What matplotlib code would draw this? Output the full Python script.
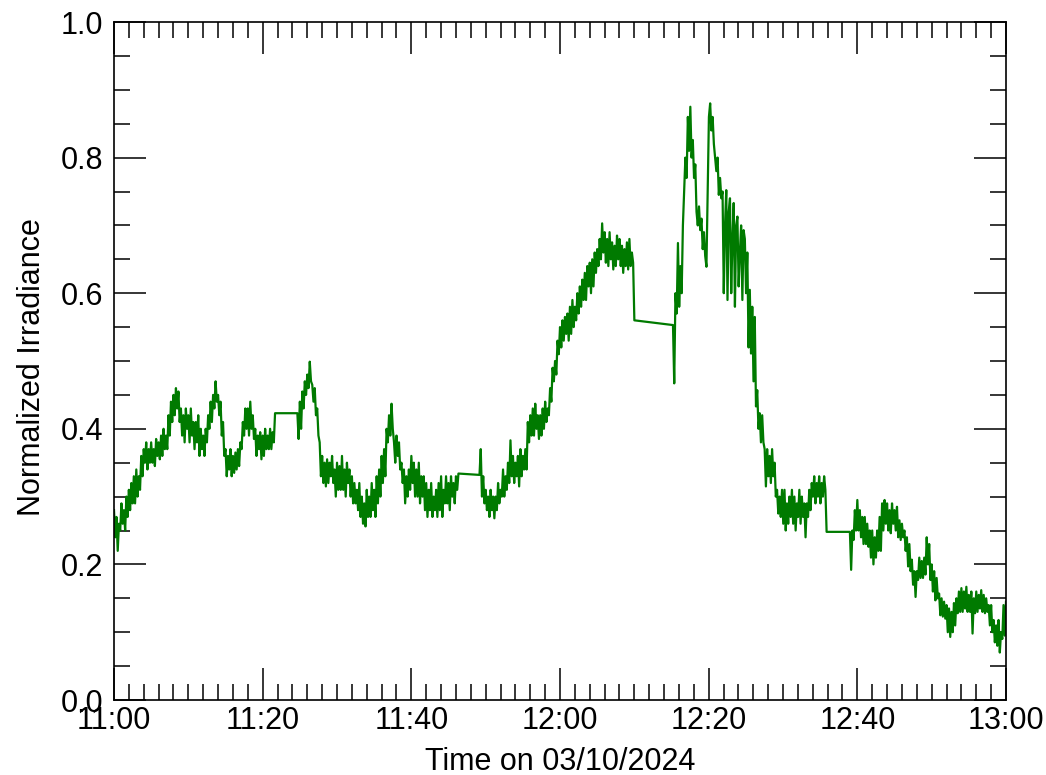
import numpy as np
import matplotlib
matplotlib.use("Agg")
import matplotlib.pyplot as plt
from matplotlib import font_manager as fm
from matplotlib.ticker import MultipleLocator

# Irradiance record at a 10-second cadence, split where the logger had gaps.
SAMPLE_STEP_MIN = 1.0 / 6.0

seg_a_start = 0.0
seg_a = [0.28, 0.24, 0.27, 0.22, 0.26, 0.25,
         0.29, 0.26, 0.28, 0.25, 0.30, 0.27,
         0.31, 0.28, 0.32, 0.29, 0.33, 0.29,
         0.34, 0.30, 0.33, 0.31, 0.36, 0.33,
         0.37, 0.35, 0.38, 0.34, 0.37, 0.35,
         0.38, 0.35, 0.37, 0.345, 0.385, 0.36,
         0.38, 0.355, 0.39, 0.36, 0.40, 0.37,
         0.39, 0.37, 0.42, 0.39, 0.44, 0.41,
         0.45, 0.42, 0.46, 0.43, 0.455, 0.41,
         0.43, 0.39, 0.42, 0.38, 0.43, 0.40,
         0.42, 0.38, 0.43, 0.39, 0.41, 0.37,
         0.41, 0.38, 0.42, 0.36, 0.40, 0.37,
         0.39, 0.36, 0.40, 0.38, 0.42, 0.40,
         0.44, 0.41, 0.45, 0.43, 0.47, 0.44,
         0.45, 0.42, 0.44, 0.39, 0.41, 0.36,
         0.37, 0.33, 0.36, 0.34, 0.37, 0.33,
         0.36, 0.335, 0.365, 0.34, 0.37, 0.345,
         0.38, 0.37, 0.41, 0.39, 0.43, 0.40,
         0.43, 0.39, 0.44, 0.40, 0.42, 0.385,
         0.40, 0.36, 0.39, 0.37, 0.395, 0.355,
         0.39, 0.36, 0.40, 0.37, 0.39, 0.37,
         0.40, 0.37, 0.395, 0.38, 0.423]

seg_b_start = 24.67
seg_b = [0.423, 0.385, 0.44, 0.40, 0.455, 0.43,
         0.47, 0.45, 0.48, 0.46, 0.499, 0.47,
         0.465, 0.44, 0.46, 0.42, 0.43, 0.39,
         0.38, 0.33, 0.36, 0.32, 0.35, 0.315,
         0.355, 0.32, 0.35, 0.33, 0.36, 0.32,
         0.34, 0.30, 0.35, 0.31, 0.345, 0.31,
         0.36, 0.31, 0.34, 0.30, 0.35, 0.32,
         0.34, 0.30, 0.33, 0.29, 0.32, 0.29,
         0.31, 0.28, 0.32, 0.27, 0.30, 0.26,
         0.29, 0.256, 0.31, 0.27, 0.30, 0.27,
         0.32, 0.28, 0.31, 0.27, 0.33, 0.29,
         0.34, 0.30, 0.36, 0.32, 0.37, 0.33,
         0.40, 0.38, 0.42, 0.39, 0.437, 0.40,
         0.38, 0.35, 0.39, 0.36, 0.38, 0.34,
         0.35, 0.32, 0.34, 0.29, 0.33, 0.30,
         0.34, 0.31, 0.36, 0.32, 0.35, 0.30,
         0.34, 0.30, 0.35, 0.29, 0.33, 0.30,
         0.33, 0.28, 0.32, 0.27, 0.31, 0.28,
         0.32, 0.27, 0.30, 0.28, 0.31, 0.27,
         0.32, 0.28, 0.33, 0.27, 0.31, 0.29,
         0.33, 0.29, 0.32, 0.28, 0.33, 0.30,
         0.32, 0.29, 0.33, 0.31, 0.334]

seg_c_start = 49.17
seg_c = [0.332,
         0.37, 0.30, 0.33, 0.29, 0.31, 0.28,
         0.30, 0.27, 0.31, 0.28, 0.30, 0.268,
         0.30, 0.28, 0.32, 0.29, 0.31, 0.30,
         0.34, 0.30, 0.33, 0.31, 0.35, 0.32,
         0.383, 0.33, 0.36, 0.32, 0.35, 0.33,
         0.36, 0.315, 0.37, 0.33, 0.36, 0.34,
         0.37, 0.34, 0.41, 0.38, 0.42, 0.39,
         0.43, 0.39, 0.437, 0.40, 0.42, 0.385,
         0.42, 0.39, 0.43, 0.40, 0.44, 0.41,
         0.43, 0.42, 0.46, 0.44, 0.49, 0.47,
         0.50, 0.48, 0.53, 0.51, 0.55, 0.52,
         0.56, 0.53, 0.565, 0.54, 0.57, 0.53,
         0.58, 0.54, 0.59, 0.55, 0.58, 0.56,
         0.60, 0.57, 0.61, 0.58, 0.62, 0.59,
         0.63, 0.59, 0.64, 0.61, 0.645, 0.60,
         0.65, 0.61, 0.66, 0.63, 0.665, 0.64,
         0.68, 0.65, 0.703, 0.66, 0.69, 0.645,
         0.68, 0.64, 0.69, 0.65, 0.675, 0.635,
         0.67, 0.64, 0.685, 0.65, 0.68, 0.64,
         0.67, 0.63, 0.665, 0.64, 0.675, 0.635,
         0.68, 0.64, 0.66, 0.645, 0.56]

seg_d_start = 75.2
seg_d = [0.553, 0.467, 0.60, 0.57, 0.674, 0.58,
         0.64, 0.60, 0.70, 0.75, 0.80, 0.77,
         0.86, 0.81, 0.875, 0.80, 0.826, 0.77,
         0.79, 0.72, 0.70, 0.728, 0.693, 0.71,
         0.665, 0.69, 0.655, 0.639, 0.75, 0.86,
         0.88, 0.84, 0.86, 0.82, 0.80, 0.78,
         0.80, 0.745, 0.77, 0.74, 0.75, 0.60,
         0.70, 0.752, 0.59, 0.72, 0.74, 0.60,
         0.68, 0.733, 0.58, 0.70, 0.713, 0.61,
         0.66, 0.70, 0.59, 0.693, 0.68, 0.60,
         0.66, 0.52, 0.605, 0.511, 0.58, 0.47,
         0.565, 0.433, 0.457, 0.40, 0.423, 0.38,
         0.42, 0.38, 0.37, 0.315, 0.37, 0.33,
         0.36, 0.32, 0.37, 0.33, 0.35, 0.30,
         0.31, 0.275, 0.30, 0.27, 0.31, 0.26,
         0.31, 0.25, 0.29, 0.26, 0.30, 0.27,
         0.31, 0.26, 0.30, 0.25, 0.29, 0.27,
         0.31, 0.26, 0.30, 0.27, 0.29, 0.24,
         0.29, 0.27, 0.31, 0.28, 0.32, 0.30,
         0.33, 0.29, 0.32, 0.30, 0.33, 0.29,
         0.32, 0.30, 0.33, 0.31, 0.248]

seg_e_start = 99.0
seg_e = [0.248, 0.192, 0.25, 0.236, 0.28, 0.25,
         0.295, 0.25, 0.28, 0.24, 0.27, 0.23,
         0.27, 0.23, 0.26, 0.226, 0.25, 0.21,
         0.25, 0.20, 0.24, 0.21, 0.25, 0.22,
         0.27, 0.22, 0.29, 0.25, 0.295, 0.26,
         0.29, 0.25, 0.28, 0.246, 0.29, 0.26,
         0.28, 0.25, 0.285, 0.24, 0.265, 0.236,
         0.26, 0.24, 0.25, 0.22, 0.24, 0.197,
         0.23, 0.19, 0.207, 0.17, 0.19, 0.152,
         0.19, 0.177, 0.21, 0.18, 0.205, 0.18,
         0.21, 0.185, 0.24, 0.20, 0.23, 0.177,
         0.20, 0.16, 0.19, 0.147, 0.18, 0.15,
         0.157, 0.125, 0.15, 0.123, 0.145, 0.12,
         0.14, 0.10, 0.135, 0.093, 0.13, 0.10,
         0.143, 0.11, 0.15, 0.128, 0.16, 0.13,
         0.165, 0.13, 0.16, 0.135, 0.167, 0.13,
         0.155, 0.13, 0.16, 0.098, 0.15, 0.128,
         0.16, 0.13, 0.155, 0.135, 0.162, 0.13,
         0.155, 0.128, 0.15, 0.13, 0.14, 0.11,
         0.14, 0.10, 0.118, 0.085, 0.11, 0.08,
         0.118, 0.07, 0.10, 0.09, 0.14, 0.095, 0.145]

segments = [(seg_a_start, seg_a), (seg_b_start, seg_b), (seg_c_start, seg_c),
            (seg_d_start, seg_d), (seg_e_start, seg_e)]

x_tick_minutes = [0, 20, 40, 60, 80, 100, 120]
x_tick_labels = ["11:00", "11:20", "11:40", "12:00", "12:20", "12:40", "13:00"]
y_ticks = [0.0, 0.2, 0.4, 0.6, 0.8, 1.0]
y_tick_labels = ["0.0", "0.2", "0.4", "0.6", "0.8", "1.0"]

# Join the segments into one trace; gaps are bridged by straight lines.
t_all, v_all = [], []
for start, vals in segments:
    t_all.extend(start + SAMPLE_STEP_MIN * np.arange(len(vals)))
    v_all.extend(vals)


def narrow_font():
    """Pick a narrow sans face if one is installed; otherwise plain Liberation Sans."""
    entries = fm.fontManager.ttflist
    names = {f.name for f in entries}
    if "Liberation Sans Narrow" in names:
        return "Liberation Sans Narrow", "normal", 26
    for fam in ("Noto Sans", "Open Sans", "Roboto", "Inter", "Lato"):
        for stretch in ("condensed", "semi-condensed"):
            for f in entries:
                if (f.name == fam and f.stretch == stretch and f.style == "normal"
                        and f.weight in (400, "normal", "regular")):
                    return fam, stretch, 25
    return "Liberation Sans", "normal", 22


family, stretch, fsize = narrow_font()
plt.rcParams["font.family"] = [family, "DejaVu Sans"]
plt.rcParams["font.stretch"] = stretch

fig = plt.figure(figsize=(10.46, 7.75), dpi=100)
ax = fig.add_axes([114 / 1046, 1 - 700 / 775, (1006 - 114) / 1046, (700 - 22) / 775])

ax.plot(t_all, v_all, color="#007a00", lw=1.6)

ax.set_xlim(0, 120)
ax.set_ylim(0, 1.0)

ax.set_xticks(x_tick_minutes)
ax.set_xticklabels(x_tick_labels)
ax.xaxis.set_minor_locator(MultipleLocator(2))
ax.set_yticks(y_ticks)
ax.set_yticklabels(y_tick_labels)
ax.yaxis.set_minor_locator(MultipleLocator(0.05))

ax.tick_params(which="both", direction="in", top=True, right=True, width=1.1, color="black")
ax.tick_params(which="major", length=23, labelsize=fsize, pad=4.5)
ax.tick_params(axis="y", which="major", pad=8)
ax.tick_params(which="minor", length=11.5)
for s in ax.spines.values():
    s.set_linewidth(1.2)

ax.set_xlabel("Time on 03/10/2024", fontsize=fsize, va="baseline")
ax.xaxis.set_label_coords(0.5, (700 - 770) / 678)
ax.set_ylabel("Normalized Irradiance", fontsize=fsize, va="baseline")
ax.yaxis.set_label_coords((40 - 114) / 892, (700 - 367) / 678)

fig.savefig("out.png", dpi=100)
